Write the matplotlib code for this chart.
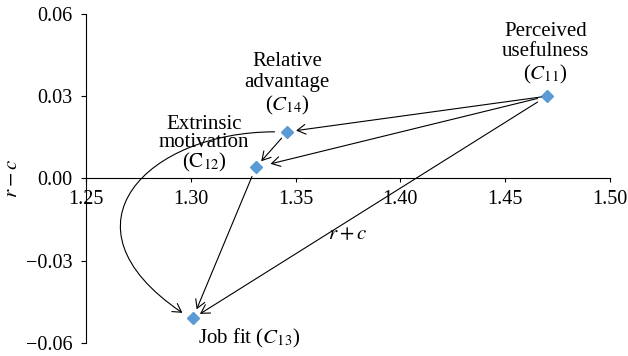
import matplotlib
matplotlib.use("Agg")
import matplotlib.pyplot as plt
from matplotlib.patches import FancyArrowPatch
from matplotlib.path import Path

plt.rcParams['font.family'] = ['Liberation Serif', 'DejaVu Serif']
plt.rcParams['mathtext.fontset'] = 'stix'

# Criteria and their (r + c, r - c) coordinates
criteria = ['C11', 'C12', 'C13', 'C14']
r_plus_c = [1.470, 1.331, 1.301, 1.346]
r_minus_c = [0.030, 0.004, -0.051, 0.017]
names = [
    'Perceived\nusefulness\n($C_{11}$)',
    'Extrinsic\nmotivation\n($\\mathrm{C}_{12}$)',
    'Job fit ($C_{13}$)',
    'Relative\nadvantage\n($C_{14}$)',
]

# Influence relations (cause -> effect)
links = [('C11', 'C14'), ('C11', 'C12'), ('C11', 'C13'), ('C14', 'C12'), ('C12', 'C13')]
curved_link = ('C14', 'C13')

xticks = [1.25, 1.30, 1.35, 1.40, 1.45, 1.50]
yticks = [-0.06, -0.03, 0.00, 0.03, 0.06]

pos = {k: (x, y) for k, x, y in zip(criteria, r_plus_c, r_minus_c)}

fig = plt.figure(figsize=(6.28, 3.56), dpi=100)
ax = fig.add_axes([0.137, 0.0365, 0.834, 0.9245])

ax.plot(r_plus_c, r_minus_c, linestyle='none', marker='D', markersize=6.5,
        color='#5B9BD5', zorder=3)

# label placement: offset in points, alignment
label_style = {
    'C11': dict(xytext=(-1, 7), ha='center', va='bottom', linespacing=1.12),
    'C12': dict(xytext=(-37, -5), ha='center', va='bottom', linespacing=0.95),
    'C13': dict(xytext=(4, -6), ha='left', va='top', linespacing=1.0),
    'C14': dict(xytext=(0, 11), ha='center', va='bottom', linespacing=1.12),
}
for k, name in zip(criteria, names):
    st = label_style[k]
    ax.annotate(name, xy=pos[k], xytext=st['xytext'], textcoords='offset points',
                ha=st['ha'], va=st['va'], multialignment='center',
                linespacing=st['linespacing'], fontsize=15, zorder=4)

shrink = {
    ('C11', 'C14'): (4, 6.5),
    ('C11', 'C12'): (7, 11),
    ('C11', 'C13'): (8, 6),
    ('C14', 'C12'): (6, 6),
    ('C12', 'C13'): (7, 7),
}
head = '->,head_length=0.6,head_width=0.35'
for src, dst in links:
    sa, sb = shrink[(src, dst)]
    ax.annotate('', xy=pos[dst], xytext=pos[src],
                arrowprops=dict(arrowstyle=head, color='black', lw=0.8,
                                mutation_scale=10, shrinkA=sa, shrinkB=sb))

# curved relation C14 -> C13 swinging out to the left
x0, y0 = pos[curved_link[0]]
x3, y3 = pos[curved_link[1]]
start = (x0 - 0.006, y0)
end = (x3 - 0.005, y3 + 0.002)
verts = [start, (1.2800, y0), (1.2340, -0.0170), end]
curve = Path(verts, [Path.MOVETO, Path.CURVE4, Path.CURVE4, Path.CURVE4])
ax.add_patch(FancyArrowPatch(path=curve, arrowstyle=head, color='black', lw=0.8,
                             mutation_scale=10))

ax.set_xlim(1.25, 1.50)
ax.set_ylim(-0.06, 0.06)
ax.set_xticks(xticks)
ax.set_yticks(yticks)
ax.set_xticklabels([f'{v:.2f}' for v in xticks])
ax.set_yticklabels([f'{v:.2f}'.replace('-', '\u2212') for v in yticks])

ax.spines['top'].set_visible(False)
ax.spines['right'].set_visible(False)
ax.spines['bottom'].set_position(('data', 0))
ax.spines['left'].set_linewidth(0.8)
ax.spines['bottom'].set_linewidth(0.8)
ax.tick_params(axis='x', direction='out', length=3, width=0.8, pad=5, labelsize=14.5)
ax.tick_params(axis='y', direction='out', length=3.6, width=0.8, pad=6, labelsize=14.5)

ax.set_xlabel('$r + c$', fontsize=15)
ax.xaxis.set_label_coords(0.5, 0.33)
ax.xaxis.label.set_verticalalignment('center')
ax.set_ylabel('$r - c$', fontsize=15)
ax.yaxis.set_label_coords(-0.141, 0.5)
ax.yaxis.label.set_verticalalignment('center')

fig.savefig('out.png', dpi=100)
